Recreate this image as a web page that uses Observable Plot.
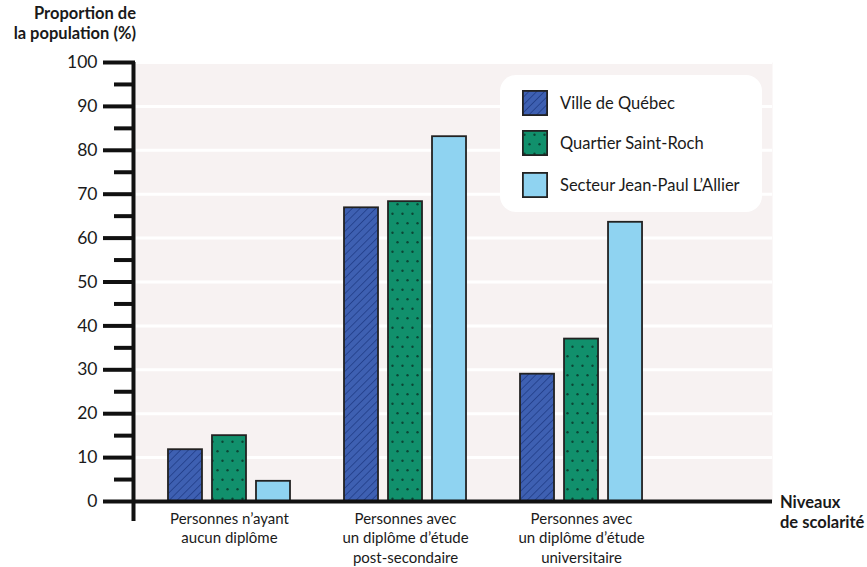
<!DOCTYPE html>
<html>
<head>
<meta charset="utf-8">
<script src="https://cdn.jsdelivr.net/npm/d3@7"></script>
<script src="https://cdn.jsdelivr.net/npm/@observablehq/plot@0.6"></script>
<style>
  body { margin: 0; background: #fff; }
  #wrap { position: relative; width: 867px; height: 567px; font-family: Lato, "Noto Sans", sans-serif; color: #1a1a1a; }
  #wrap svg { position: absolute; left: 0; top: 0; }
  .ttl { position: absolute; font-weight: 700; font-size: 16.5px; line-height: 20px; white-space: nowrap; }
  #legend { position: absolute; left: 500px; top: 75px; width: 262px; height: 137px; background: #fff; border-radius: 16px; }
  .item { position: absolute; left: 22px; height: 26px; display: flex; align-items: center; font-size: 16.5px; white-space: nowrap; }
  .item svg { position: static !important; margin-right: 12px; }
</style>
</head>
<body>
<div id="wrap"></div>
<script>
const groups = ["Personnes n’ayant\naucun diplôme", "Personnes avec\nun diplôme d’étude\npost-secondaire", "Personnes avec\nun diplôme d’étude\nuniversitaire"];
const series = ["Ville de Québec", "Quartier Saint-Roch", "Secteur Jean-Paul L’Allier"];
const villeQuebec = [11.8, 66.9, 29.0];
const saintRoch = [15.0, 68.3, 37.0];
const jeanPaul = [4.6, 83.1, 63.6];
const yTicks = [0, 10, 20, 30, 40, 50, 60, 70, 80, 90, 100];
const yMinorTicks = [5, 15, 25, 35, 45, 55, 65, 75, 85, 95];

const values = [villeQuebec, saintRoch, jeanPaul];
const fills = ["url(#hatch)", "url(#dots)", "#8fd3f1"];
const offsets = [-0.25, 0, 0.25];
const hw = 0.0966;
const xDomain = [-0.534, 3.085];

const data = [];
series.forEach((s, si) => values[si].forEach((v, gi) => data.push({series: s, si, gi, value: v})));

const bars = series.map((s, si) => Plot.rectY(data.filter(d => d.si === si), {
  x1: d => d.gi + offsets[d.si] - hw,
  x2: d => d.gi + offsets[d.si] + hw,
  y: "value",
  fill: fills[si],
  stroke: "#222",
  strokeWidth: 1.8
}));

const chart = Plot.plot({
  width: 867,
  height: 567,
  marginLeft: 135,
  marginRight: 95,
  marginTop: 62,
  marginBottom: 66,
  x: {domain: xDomain, axis: null},
  y: {domain: [0, 100], axis: null},
  style: {background: "transparent", color: "#1a1a1a", fontFamily: "Lato, 'Noto Sans', sans-serif", overflow: "visible"},
  marks: [
    Plot.frame({fill: "#f7f2f2", stroke: "none"}),
    Plot.gridY({ticks: yTicks.filter(t => t > 0), stroke: "white", strokeOpacity: 1, strokeWidth: 3}),
    ...bars,
    Plot.ruleY([0], {stroke: "#111", strokeWidth: 4}),
    Plot.ruleX([xDomain[0]], {dx: -2, stroke: "#111", strokeWidth: 4, insetBottom: -20}),
    Plot.axisY({ticks: yTicks, tickSize: 32, strokeWidth: 4, tickPadding: 6, fontSize: 17.5, stroke: "#111", label: null}),
    Plot.axisY({ticks: yMinorTicks, tickSize: 21, strokeWidth: 4, tickFormat: () => "", stroke: "#111", label: null}),
    Plot.text(groups, {x: (d, i) => i, y: 0, text: d => d, dy: 9, lineAnchor: "top", lineHeight: 1.28, fontSize: 15, fill: "#1a1a1a"})
  ]
});

const defs = `
<pattern id="hatch" patternUnits="userSpaceOnUse" width="5.5" height="5.5" patternTransform="rotate(45)">
  <rect width="5.5" height="5.5" fill="#3e60b2"/>
  <line x1="0" y1="0" x2="0" y2="5.5" stroke="#1f3b85" stroke-width="1.5"/>
</pattern>
<pattern id="dots" patternUnits="userSpaceOnUse" width="10" height="19">
  <rect width="10" height="19" fill="#11906c"/>
  <circle cx="2.5" cy="4.75" r="1.2" fill="#0a4635"/>
  <circle cx="7.5" cy="14.25" r="1.2" fill="#0a4635"/>
</pattern>`;
d3.select(chart).insert("defs", ":first-child").html(defs);

const wrap = document.getElementById("wrap");
wrap.appendChild(chart);

function addDiv(cls, html, style) {
  const d = document.createElement("div");
  d.className = cls;
  d.innerHTML = html;
  Object.assign(d.style, style);
  return d;
}
wrap.appendChild(addDiv("ttl", "Proportion de<br>la population (%)", {right: (867 - 136) + "px", top: "3px", textAlign: "right"}));
wrap.appendChild(addDiv("ttl", "Niveaux<br>de scolarité", {left: "780px", top: "492px", textAlign: "left"}));

const legend = addDiv("", "", {});
legend.id = "legend";
const rowTops = [15, 55, 97];
series.forEach((s, si) => {
  const sw = `<svg width="26" height="26"><defs>${defs.replace('id="hatch"', 'id="hatchL"').replace('id="dots"', 'id="dotsL"')}</defs><rect x="0.9" y="0.9" width="24.2" height="24.2" fill="${fills[si].replace('#hatch', '#hatchL').replace('#dots', '#dotsL')}" stroke="#222" stroke-width="1.8"/></svg>`;
  legend.appendChild(addDiv("item", sw + `<span>${s}</span>`, {top: rowTops[si] + "px"}));
});
wrap.appendChild(legend);
</script>
</body>
</html>
